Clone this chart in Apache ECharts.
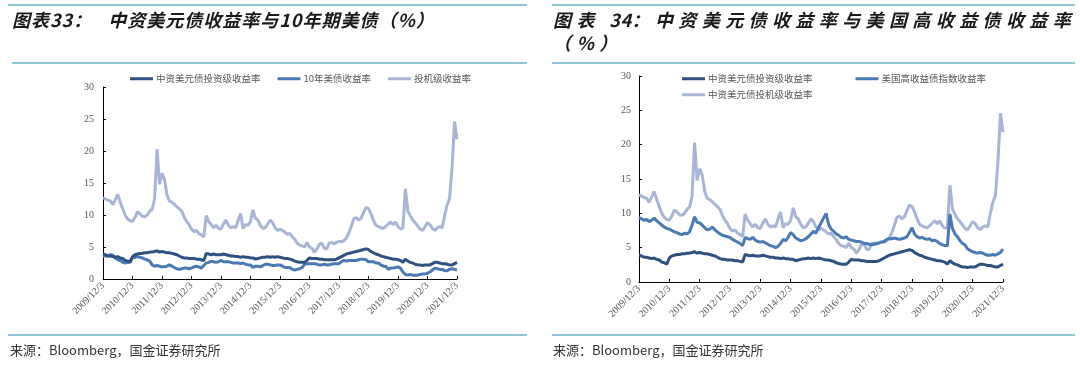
<!DOCTYPE html>
<html><head><meta charset="utf-8">
<script src="https://cdn.jsdelivr.net/npm/echarts@6/dist/echarts.min.js"></script>
<style>
html,body{margin:0;padding:0;background:#fff}
#wrap{position:relative;width:1080px;height:370px}
#c{position:absolute;left:0;top:0;width:1080px;height:370px}
.ttl{position:absolute;font-family:"Noto Sans CJK SC",sans-serif;font-weight:bold;font-style:italic;color:#1a1a1a;font-size:18px;line-height:23px;white-space:nowrap}
.num{letter-spacing:0.5px}
</style>
</head><body>
<div id="wrap">
<div id="c"></div>
<div class="ttl" style="left:12px;top:8px;letter-spacing:1px">图表33：<span style="margin-left:16px">中资美元债收益率与10年期美债（%）</span></div>
<div class="ttl" style="left:553px;top:8px;letter-spacing:5.4px">图表 <span class="num">34</span>：中资美元债收益率与美国高收益债收益率<br>（%）</div>
</div>
<script>
// monthly categories 2009/12 .. 2021/12
const months = [];
for (let y = 2009, m = 12; ; ) {
  months.push(y + '/' + m + '/3');
  if (y === 2021 && m === 12) break;
  m++; if (m > 12) { m = 1; y++; }
}
// 中资美元债投资级收益率
const igYield = [
  3.9,3.8,3.6,3.6,3.5,3.4,3.5,3.3,3.2,2.9,2.8,2.6,
  3.5,3.8,3.9,4.0,4.0,4.1,4.1,4.2,4.2,4.3,4.4,4.2,
  4.3,4.2,4.1,4.1,4.0,3.9,3.8,3.6,3.4,3.3,3.3,3.2,
  3.2,3.2,3.1,3.1,3.0,2.9,4.0,3.9,3.8,3.9,3.8,3.8,
  3.8,3.9,3.8,3.7,3.6,3.6,3.5,3.5,3.4,3.5,3.4,3.4,
  3.3,3.3,3.1,3.2,3.3,3.4,3.4,3.5,3.4,3.5,3.4,3.5,
  3.4,3.3,3.2,3.2,3.1,3.0,2.8,2.7,2.6,2.6,2.6,2.9,
  3.3,3.2,3.2,3.2,3.1,3.1,3.0,3.0,3.0,3.0,3.0,3.1,
  3.3,3.5,3.7,3.9,4.0,4.1,4.2,4.3,4.4,4.5,4.6,4.7,
  4.6,4.3,4.1,3.9,3.8,3.6,3.5,3.4,3.3,3.2,3.1,3.1,
  3.0,2.9,2.6,3.1,2.8,2.6,2.5,2.3,2.2,2.2,2.1,2.2,
  2.2,2.2,2.4,2.6,2.6,2.5,2.4,2.4,2.3,2.2,2.2,2.4,
  2.6
];
// 中资美元债投机级收益率
const hyYield = [
  12.7,12.5,12.3,12.2,11.6,12.4,13.2,12.0,11.0,10.0,9.4,9.1,
  9.0,9.6,10.5,10.2,9.8,9.7,10.0,10.6,10.9,12.5,20.3,14.8,
  16.5,15.6,13.2,12.2,12.0,11.7,11.3,11.0,10.6,9.7,9.0,8.5,
  7.8,7.4,7.6,7.1,6.9,6.6,9.9,9.0,8.5,8.0,8.4,7.9,
  7.8,8.6,9.2,8.4,8.0,8.2,8.0,9.2,10.2,7.9,8.5,8.4,
  9.0,10.8,9.5,9.2,8.4,7.9,8.0,8.6,9.2,8.8,8.0,7.6,
  7.8,7.6,7.3,7.0,7.1,6.6,6.2,5.6,5.3,5.2,5.0,5.7,
  5.0,4.8,4.2,4.7,5.4,5.6,4.8,4.7,5.6,5.7,5.5,5.7,
  5.9,5.8,6.0,6.4,7.2,8.2,9.4,9.6,9.2,9.5,10.4,11.2,
  11.0,10.2,9.2,8.4,8.2,8.0,7.9,8.2,8.6,8.9,8.5,8.9,
  8.2,7.8,8.0,14.1,10.6,9.9,9.2,8.8,8.3,7.8,7.6,8.2,
  8.8,8.5,7.9,7.6,8.0,8.2,8.0,10.0,11.6,12.6,17.5,24.6,
  21.8
];
// 10年美债收益率
const ust10y = [
  3.6,3.6,3.6,3.8,3.7,3.3,3.0,2.9,2.6,2.5,2.6,2.8,
  3.3,3.4,3.5,3.4,3.3,3.1,3.0,2.8,2.2,2.0,2.1,2.0,
  1.9,1.9,2.0,2.2,2.0,1.8,1.6,1.5,1.6,1.7,1.7,1.6,
  1.7,1.9,2.0,1.9,1.7,2.1,2.5,2.6,2.8,2.7,2.6,2.7,
  2.9,2.7,2.7,2.7,2.6,2.5,2.5,2.5,2.4,2.5,2.3,2.2,
  2.2,1.8,2.0,2.0,1.9,2.1,2.3,2.3,2.2,2.1,2.1,2.2,
  2.2,2.0,1.8,1.8,1.8,1.5,1.4,1.5,1.6,1.8,2.3,2.4,
  2.4,2.4,2.4,2.3,2.2,2.2,2.3,2.2,2.2,2.3,2.4,2.4,
  2.4,2.7,2.9,2.8,2.9,2.9,2.9,2.9,3.0,3.1,3.1,3.0,
  2.7,2.7,2.7,2.5,2.5,2.2,2.0,2.0,1.5,1.7,1.7,1.8,
  1.9,1.7,1.1,0.7,0.6,0.7,0.6,0.6,0.6,0.7,0.8,0.8,
  0.9,1.1,1.4,1.7,1.6,1.5,1.5,1.3,1.3,1.5,1.6,1.5,
  1.4
];
// 美国高收益债指数收益率
const usHyYield = [
  9.4,9.2,9.0,9.1,8.8,9.0,9.3,8.9,8.6,8.3,8.0,7.8,
  7.7,7.5,7.3,7.2,7.0,6.9,7.1,7.0,7.3,8.3,9.5,8.7,
  8.6,8.3,7.9,7.6,7.7,8.0,7.6,7.3,7.0,6.8,6.7,6.6,
  6.5,6.2,6.0,5.8,5.6,5.3,6.5,6.3,6.2,6.5,6.1,5.9,
  5.8,5.9,5.7,5.5,5.3,5.2,5.0,5.2,5.6,6.2,6.0,6.5,
  7.2,6.9,6.4,6.2,6.0,6.1,6.3,6.6,7.0,7.4,7.1,7.9,
  8.6,9.3,10.0,8.4,7.7,7.4,7.0,6.8,6.5,6.4,6.6,6.2,
  6.1,6.0,5.9,5.9,5.8,5.6,5.6,5.5,5.4,5.5,5.6,5.7,
  5.8,5.9,6.2,6.3,6.3,6.4,6.3,6.2,6.3,6.4,6.6,7.2,
  7.9,7.0,6.6,6.4,6.5,6.3,6.2,6.3,6.0,6.1,5.9,5.6,
  5.4,5.3,5.3,9.9,7.8,7.0,6.6,6.0,5.6,5.4,4.8,4.6,
  4.4,4.3,4.2,4.3,4.2,4.0,3.9,3.9,4.0,3.9,4.1,4.3,
  4.8
];
const yMin = 0, yMax = 30, yStep = 5;
const DARK = '#2f5180', MED = '#4a7ab3', LIGHT = '#a8b5d4';
const RULE = '#8ec4d3';

function xAxis(g) {
  return {
    type: 'category', gridIndex: g, data: months, boundaryGap: false,
    axisLine: { lineStyle: { color: '#000', width: 1 } },
    axisTick: { inside: true, length: 3, interval: 11, lineStyle: { color: '#000' } },
    axisLabel: { interval: 11, rotate: 45, fontFamily: 'Liberation Serif', fontSize: 10, color: '#555', margin: 5 },
    splitLine: { show: false }
  };
}
function yAxis(g, margin) {
  return {
    type: 'value', gridIndex: g, min: yMin, max: yMax, interval: yStep,
    axisLine: { show: true, lineStyle: { color: '#000', width: 1 } },
    axisTick: { show: true, inside: true, length: 3, lineStyle: { color: '#000' } },
    axisLabel: { fontFamily: 'Liberation Serif', fontSize: 10, color: '#555', margin: margin },
    splitLine: { show: false }
  };
}
function line(name, data, color, xi, z) {
  return {
    name, type: 'line', data, xAxisIndex: xi, yAxisIndex: xi, showSymbol: false, symbol: 'none',
    lineStyle: { width: 3, color }, itemStyle: { color }, z, animation: false
  };
}
const legendBase = {
  icon: 'rect', itemWidth: 23, itemHeight: 3, selectedMode: false,
  textStyle: { fontFamily: 'Noto Sans CJK SC', fontSize: 9.5, color: '#555', padding: [0, 0, 0, -2] }
};
function rule(x1, y, x2) {
  return { type: 'line', shape: { x1, y1: y, x2, y2: y }, style: { stroke: RULE, lineWidth: 2 }, silent: true };
}
function src(x) {
  return { type: 'text', x, y: 350, style: { text: '来源：Bloomberg，国金证券研究所', fill: '#333', font: '13px "Noto Sans CJK SC"', textVerticalAlign: 'middle' } };
}

const chart = echarts.init(document.getElementById('c'), null, { renderer: 'canvas' });
chart.setOption({
  animation: false,
  backgroundColor: '#fff',
  grid: [
    { left: 103, top: 87, width: 354, height: 192 },
    { left: 639, top: 76, width: 364, height: 206 }
  ],
  xAxis: [xAxis(0), xAxis(1)],
  yAxis: [yAxis(0, 9), yAxis(1, 8)],
  legend: [
    Object.assign({}, legendBase, { left: 125, top: 69, itemGap: 17, data: ['中资美元债投资级收益率', '10年美债收益率', '投机级收益率'] }),
    Object.assign({}, legendBase, { left: 677, top: 69, itemGap: 43, data: ['中资美元债投资级收益率', '美国高收益债指数收益率'] }),
    Object.assign({}, legendBase, { left: 677, top: 85, data: ['中资美元债投机级收益率'] })
  ],
  series: [
    line('投机级收益率', hyYield, LIGHT, 0, 1),
    line('10年美债收益率', ust10y, MED, 0, 2),
    line('中资美元债投资级收益率', igYield, DARK, 0, 3),
    line('中资美元债投机级收益率', hyYield, LIGHT, 1, 1),
    line('美国高收益债指数收益率', usHyYield, MED, 1, 2),
    line('中资美元债投资级收益率', igYield, DARK, 1, 3)
  ],
  graphic: [
    rule(8, 5, 527), rule(12, 63, 527), rule(8, 335, 527),
    rule(552, 5, 1075), rule(552, 63, 1075), rule(552, 335, 1075),
    src(10), src(553)
  ]
});
</script>
</body></html>
